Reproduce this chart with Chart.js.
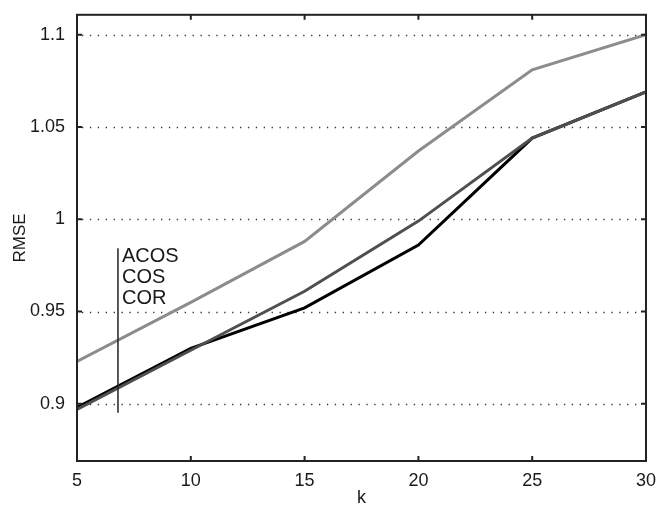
<!DOCTYPE html>
<html>
<head>
<meta charset="utf-8">
<script src="https://cdn.jsdelivr.net/npm/chart.js@4.4.1/dist/chart.umd.min.js"></script>
<style>
  html, body { margin: 0; padding: 0; background: #fff; }
  #wrap { width: 657px; height: 507px; }
</style>
</head>
<body>
<div id="wrap"><canvas id="c"></canvas></div>
<script>
/* RMSE vs k (ACOS / COS / COR), MATLAB風の枠・点線グリッド */

const K_VALUES = [5, 10, 15, 20, 25, 30];
const ACOS = [0.923, 0.955, 0.988, 1.037, 1.081, 1.1];
const COS = [0.897, 0.929, 0.961, 0.999, 1.044, 1.069];
const COR = [0.898, 0.93, 0.952, 0.986, 1.044, 1.069];
const Y_TICKS = [0.9, 0.95, 1, 1.05, 1.1];
const X_TICKS = [5, 10, 15, 20, 25, 30];
const LEGEND_LABELS = ["ACOS", "COS", "COR"];

const ink = "#1a1a1a";
const FONT = "'Liberation Sans', Arial, sans-serif";
const pts = (ys) => ys.map((y, i) => ({ x: K_VALUES[i], y }));

// 枠・内向き目盛・点線グリッド
const boxPlugin = {
  id: "matlabBox",
  beforeDatasetsDraw(chart) {
    const { ctx, chartArea: a, scales } = chart;
    ctx.save();
    ctx.strokeStyle = "#333";
    ctx.lineWidth = 1.3;
    ctx.setLineDash([1.3, 6.6]);
    Y_TICKS.forEach((v) => {
      const y = Math.round(scales.y.getPixelForValue(v)) + 0.5;
      ctx.beginPath();
      ctx.moveTo(a.left + 5, y);
      ctx.lineTo(a.right - 5, y);
      ctx.stroke();
    });
    ctx.restore();
  },
  afterDatasetsDraw(chart) {
    const { ctx, chartArea: a, scales } = chart;
    ctx.save();
    ctx.strokeStyle = "#222";
    ctx.lineWidth = 2;
    ctx.strokeRect(a.left, a.top, a.right - a.left, a.bottom - a.top);
    ctx.beginPath();
    Y_TICKS.forEach((v) => {
      const y = scales.y.getPixelForValue(v);
      ctx.moveTo(a.left, y);
      ctx.lineTo(a.left + 5, y);
      ctx.moveTo(a.right, y);
      ctx.lineTo(a.right - 5, y);
    });
    X_TICKS.forEach((v) => {
      const x = scales.x.getPixelForValue(v);
      ctx.moveTo(x, a.bottom);
      ctx.lineTo(x, a.bottom - 5);
      ctx.moveTo(x, a.top);
      ctx.lineTo(x, a.top + 5);
    });
    ctx.stroke();

    // 凡例(縦線+ラベル)
    const lx = scales.x.getPixelForValue(6.8);
    ctx.lineWidth = 1.5;
    ctx.beginPath();
    ctx.moveTo(lx, scales.y.getPixelForValue(0.9843));
    ctx.lineTo(lx, scales.y.getPixelForValue(0.8952));
    ctx.stroke();
    ctx.fillStyle = ink;
    ctx.font = `20px ${FONT}`;
    ctx.textBaseline = "middle";
    const ly0 = scales.y.getPixelForValue(0.9843) + 8;
    LEGEND_LABELS.forEach((s, i) => ctx.fillText(s, lx + 4, ly0 + i * 21));
    ctx.restore();
  },
};

new Chart(document.getElementById("c"), {
  type: "line",
  data: {
    datasets: [
      { label: "ACOS", data: pts(ACOS), borderColor: "#8c8c8c", order: 3 },
      { label: "COS", data: pts(COS), borderColor: "#4f4f4f", order: 1 },
      { label: "COR", data: pts(COR), borderColor: "#000", order: 2 },
    ],
  },
  options: {
    responsive: true,
    maintainAspectRatio: false,
    animation: false,
    layout: { padding: { top: 11, right: 10, left: 0, bottom: 0 } },
    elements: { line: { borderWidth: 3, tension: 0 }, point: { radius: 0 } },
    plugins: { legend: { display: false }, tooltip: { enabled: false } },
    scales: {
      x: {
        type: "linear",
        min: 5,
        max: 30,
        afterBuildTicks: (s) => { s.ticks = X_TICKS.map((v) => ({ value: v })); },
        afterFit: (s) => { s.height = 46; },
        ticks: { color: ink, font: { family: FONT, size: 18 }, padding: 1, maxRotation: 0 },
        grid: { display: false },
        border: { display: false },
        title: { display: true, text: "k", color: ink, font: { family: FONT, size: 18 }, padding: { top: 0, bottom: -2 } },
      },
      y: {
        min: 0.869,
        max: 1.1108,
        afterBuildTicks: (s) => { s.ticks = Y_TICKS.map((v) => ({ value: v })); },
        afterFit: (s) => { s.width = 77; },
        ticks: { color: ink, font: { family: FONT, size: 18 }, padding: 4, callback: (v) => String(v) },
        grid: { display: false },
        border: { display: false },
        title: { display: true, text: "RMSE", color: ink, font: { family: FONT, size: 17 }, padding: { top: 10, bottom: 0 } },
      },
    },
  },
  plugins: [boxPlugin],
});
</script>
</body>
</html>
